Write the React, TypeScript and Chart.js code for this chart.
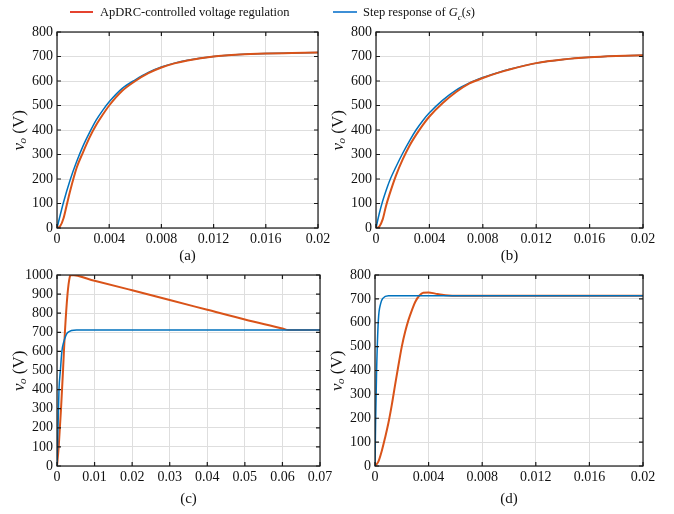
import React, { useEffect, useRef } from 'react';
import { Chart, registerables } from 'chart.js';

Chart.register(...registerables);

const W = 674;
const H = 514;
const RED = '#D95319';
const BLUE = '#0072BD';
const LEGEND_RED = '#E5432F';
const LEGEND_BLUE = '#3D8FD6';
const FONT = "'Liberation Serif', 'Times New Roman', serif";
const TEXT = '#111111';

// ---- tick labels ----
const xTicks02 = [0, 0.004, 0.008, 0.012, 0.016, 0.02];
const xLabels02 = ['0', '0.004', '0.008', '0.012', '0.016', '0.02'];
const xTicks07 = [0, 0.01, 0.02, 0.03, 0.04, 0.05, 0.06, 0.07];
const xLabels07 = ['0', '0.01', '0.02', '0.03', '0.04', '0.05', '0.06', '0.07'];
const yTicks800 = [0, 100, 200, 300, 400, 500, 600, 700, 800];
const yLabels800 = ['0', '100', '200', '300', '400', '500', '600', '700', '800'];
const yTicks1000 = [0, 100, 200, 300, 400, 500, 600, 700, 800, 900, 1000];
const yLabels1000 = ['0', '100', '200', '300', '400', '500', '600', '700', '800', '900', '1000'];

// ---- legend / captions ----
const legendRed = 'ApDRC-controlled voltage regulation';
const captions = ['(a)', '(b)', '(c)', '(d)'];

// ---- panel (a) ----
const tRedA = [0, 0.00025, 0.0005, 0.00075, 0.001, 0.0015, 0.002, 0.0025, 0.003, 0.0035, 0.004, 0.005, 0.006, 0.007, 0.008, 0.009, 0.01, 0.012, 0.014, 0.016, 0.018, 0.02];
const vRedA = [0, 8, 40, 95, 150, 245, 310, 370, 420, 462, 500, 560, 600, 632, 655, 672, 684, 700, 708, 712, 714, 716];
const tBlueA = [0, 0.0005, 0.001, 0.0015, 0.002, 0.0025, 0.003, 0.0035, 0.004, 0.005, 0.006, 0.007, 0.008, 0.009, 0.01, 0.012, 0.014, 0.016, 0.018, 0.02];
const vBlueA = [0, 105, 195, 270, 335, 390, 440, 480, 515, 570, 605, 635, 657, 673, 685, 700, 708, 712, 714, 716];

// ---- panel (b) ----
const tRedB = [0, 0.00025, 0.0005, 0.00075, 0.001, 0.0015, 0.002, 0.0025, 0.003, 0.0035, 0.004, 0.005, 0.006, 0.007, 0.008, 0.009, 0.01, 0.012, 0.014, 0.016, 0.018, 0.02];
const vRedB = [0, 6, 35, 90, 135, 215, 280, 335, 380, 420, 455, 510, 555, 590, 612, 631, 647, 673, 688, 697, 702, 705];
const tBlueB = [0, 0.00025, 0.0005, 0.00075, 0.001, 0.0015, 0.002, 0.0025, 0.003, 0.0035, 0.004, 0.005, 0.006, 0.007, 0.008, 0.009, 0.01, 0.012, 0.014, 0.016, 0.018, 0.02];
const vBlueB = [0, 60, 110, 152, 190, 250, 305, 355, 400, 438, 470, 522, 563, 592, 614, 632, 648, 673, 688, 697, 702, 705];

// ---- panel (c) ----
const tRedC = [0, 0.00045, 0.00107, 0.0016, 0.0021, 0.0028, 0.0034, 0.0037, 0.01, 0.02, 0.03, 0.04, 0.05, 0.06, 0.0616, 0.07];
const vRedC = [0, 100, 300, 500, 700, 900, 990, 1000, 970, 920, 869, 818, 767, 720, 712, 712];
const tBlueC = [0, 0.00027, 0.00053, 0.0009, 0.0013, 0.0018, 0.0029, 0.0052, 0.07];
const vBlueC = [0, 200, 400, 500, 600, 650, 700, 712, 712];

// ---- panel (d) ----
const tRedD = [0, 0.00025, 0.0005, 0.00075, 0.001, 0.00125, 0.0015, 0.00175, 0.002, 0.00225, 0.0025, 0.00275, 0.003, 0.0033, 0.0036, 0.004, 0.0045, 0.005, 0.0055, 0.006, 0.02];
const vRedD = [0, 18, 62, 118, 180, 255, 340, 422, 500, 562, 612, 652, 687, 713, 726, 727, 722, 717, 714, 713, 713];
const tBlueD = [0, 0.00005, 0.00012, 0.00025, 0.00042, 0.0006, 0.001, 0.02];
const vBlueD = [0, 200, 400, 610, 680, 703, 713, 713];

type Rect = { left: number; top: number; right: number; bottom: number };
type Panel = {
  plot: Rect;
  xAxisH: number;
  xMax: number;
  xTicks: number[];
  xLabels: string[];
  yMax: number;
  yTicks: number[];
  yLabels: string[];
  caption: string;
  tRed: number[];
  vRed: number[];
  tBlue: number[];
  vBlue: number[];
  redOnTop: boolean;
};

const Y_AXIS_W = 40;

const panels: Panel[] = [
  { plot: { left: 57, top: 32, right: 318, bottom: 228 }, xAxisH: 41, xMax: 0.02, xTicks: xTicks02, xLabels: xLabels02, yMax: 800, yTicks: yTicks800, yLabels: yLabels800, caption: captions[0], tRed: tRedA, vRed: vRedA, tBlue: tBlueA, vBlue: vBlueA, redOnTop: true },
  { plot: { left: 376, top: 32, right: 643, bottom: 228 }, xAxisH: 41, xMax: 0.02, xTicks: xTicks02, xLabels: xLabels02, yMax: 800, yTicks: yTicks800, yLabels: yLabels800, caption: captions[1], tRed: tRedB, vRed: vRedB, tBlue: tBlueB, vBlue: vBlueB, redOnTop: true },
  { plot: { left: 57, top: 275, right: 320, bottom: 466 }, xAxisH: 46, xMax: 0.07, xTicks: xTicks07, xLabels: xLabels07, yMax: 1000, yTicks: yTicks1000, yLabels: yLabels1000, caption: captions[2], tRed: tRedC, vRed: vRedC, tBlue: tBlueC, vBlue: vBlueC, redOnTop: false },
  { plot: { left: 375, top: 275, right: 643, bottom: 466 }, xAxisH: 46, xMax: 0.02, xTicks: xTicks02, xLabels: xLabels02, yMax: 800, yTicks: yTicks800, yLabels: yLabels800, caption: captions[3], tRed: tRedD, vRed: vRedD, tBlue: tBlueD, vBlue: vBlueD, redOnTop: false },
];

function toPoints(t: number[], v: number[]) {
  return t.map((x, i) => ({ x, y: v[i] }));
}

const framePlugin = {
  id: 'frame',
  afterDatasetsDraw(chart: any) {
    const { ctx, chartArea, scales } = chart;
    const { left, top, right, bottom } = chartArea;
    ctx.save();
    ctx.strokeStyle = '#1a1a1a';
    ctx.lineWidth = 1.2;
    ctx.strokeRect(left, top, right - left, bottom - top);
    const tl = 4;
    ctx.beginPath();
    for (const t of scales.x.ticks) {
      const px = scales.x.getPixelForValue(t.value);
      ctx.moveTo(px, bottom);
      ctx.lineTo(px, bottom - tl);
      ctx.moveTo(px, top);
      ctx.lineTo(px, top + tl);
    }
    for (const t of scales.y.ticks) {
      const py = scales.y.getPixelForValue(t.value);
      ctx.moveTo(left, py);
      ctx.lineTo(left + tl, py);
      ctx.moveTo(right, py);
      ctx.lineTo(right - tl, py);
    }
    ctx.stroke();

    // y-axis title: italic v, subscript o, " (V)"
    const cx = left - 38;
    const cy = (top + bottom) / 2;
    ctx.translate(cx, cy);
    ctx.rotate(-Math.PI / 2);
    ctx.fillStyle = TEXT;
    ctx.textBaseline = 'alphabetic';
    ctx.textAlign = 'left';
    const f1 = `italic 17px ${FONT}`;
    const f2 = `italic 11px ${FONT}`;
    const f3 = `17px ${FONT}`;
    ctx.font = f1;
    const w1 = ctx.measureText('v').width;
    ctx.font = f2;
    const w2 = ctx.measureText('o').width;
    ctx.font = f3;
    const w3 = ctx.measureText(' (V)').width;
    let x = -(w1 + w2 + w3) / 2;
    const base = 5;
    ctx.font = f1;
    ctx.fillText('v', x, base);
    x += w1 - 0.5;
    ctx.font = f2;
    ctx.fillText('o', x, base + 2);
    x += w2;
    ctx.font = f3;
    ctx.fillText(' (V)', x, base);
    ctx.restore();
  },
};

function ChartPanel({ p }: { p: Panel }) {
  const ref = useRef<HTMLCanvasElement>(null);
  useEffect(() => {
    const font = { family: FONT, size: 14 };
    const chart = new Chart(ref.current as HTMLCanvasElement, {
      type: 'line',
      data: {
        datasets: [
          {
            data: toPoints(p.tRed, p.vRed),
            borderColor: RED,
            borderWidth: 2,
            pointRadius: 0,
            cubicInterpolationMode: 'monotone',
            fill: false,
            order: p.redOnTop ? 1 : 2,
          },
          {
            data: toPoints(p.tBlue, p.vBlue),
            borderColor: BLUE,
            borderWidth: 1.5,
            pointRadius: 0,
            cubicInterpolationMode: 'monotone',
            fill: false,
            order: p.redOnTop ? 2 : 1,
          },
        ],
      },
      options: {
        responsive: false,
        animation: false,
        devicePixelRatio: 1,
        events: [],
        layout: {
          padding: {
            left: p.plot.left - Y_AXIS_W,
            top: p.plot.top,
            right: W - p.plot.right,
            bottom: H - p.plot.bottom - p.xAxisH,
          },
        },
        plugins: { legend: { display: false }, tooltip: { enabled: false } },
        scales: {
          x: {
            type: 'linear',
            min: 0,
            max: p.xMax,
            afterBuildTicks: (s: any) => {
              s.ticks = p.xTicks.map((v) => ({ value: v }));
            },
            afterFit: (s: any) => {
              s.height = p.xAxisH;
            },
            ticks: {
              callback: (_v: any, i: number) => p.xLabels[i],
              font,
              color: TEXT,
              padding: 3,
              maxRotation: 0,
              autoSkip: false,
            },
            grid: { color: '#dedede', lineWidth: 1, drawTicks: false },
            border: { display: false },
            title: {
              display: true,
              text: p.caption,
              font: { family: FONT, size: 15 },
              color: TEXT,
              padding: { top: 0, bottom: 4 },
            },
          },
          y: {
            type: 'linear',
            min: 0,
            max: p.yMax,
            afterBuildTicks: (s: any) => {
              s.ticks = p.yTicks.map((v) => ({ value: v }));
            },
            afterFit: (s: any) => {
              s.width = Y_AXIS_W;
            },
            ticks: {
              callback: (_v: any, i: number) => p.yLabels[i],
              font,
              color: TEXT,
              padding: 4,
              autoSkip: false,
            },
            grid: { color: '#dedede', lineWidth: 1, drawTicks: false },
            border: { display: false },
          },
        },
      } as any,
      plugins: [framePlugin],
    });
    return () => chart.destroy();
  }, []);
  return (
    <canvas
      ref={ref}
      width={W}
      height={H}
      style={{ position: 'absolute', left: 0, top: 0, width: W, height: H }}
    />
  );
}

export default function App() {
  return (
    <div style={{ position: 'absolute', left: 0, top: 0, width: W, height: H, background: '#fff', overflow: 'hidden' }}>
      {panels.map((p, i) => (
        <ChartPanel key={i} p={p} />
      ))}
      <div style={{ position: 'absolute', left: 0, top: 0, width: W, height: 24, fontFamily: FONT, fontSize: 12.5, color: TEXT }}>
        <span style={{ position: 'absolute', left: 70, top: 11, width: 23, height: 2, background: LEGEND_RED }} />
        <span style={{ position: 'absolute', left: 100, top: 2, lineHeight: '20px', whiteSpace: 'nowrap' }}>{legendRed}</span>
        <span style={{ position: 'absolute', left: 333, top: 11, width: 24, height: 2, background: LEGEND_BLUE }} />
        <span style={{ position: 'absolute', left: 363, top: 2, lineHeight: '20px', whiteSpace: 'nowrap' }}>
          Step response of <i>G</i>
          <sub style={{ fontSize: 9, fontStyle: 'italic', lineHeight: 0 }}>c</sub>(<i>s</i>)
        </span>
      </div>
    </div>
  );
}
